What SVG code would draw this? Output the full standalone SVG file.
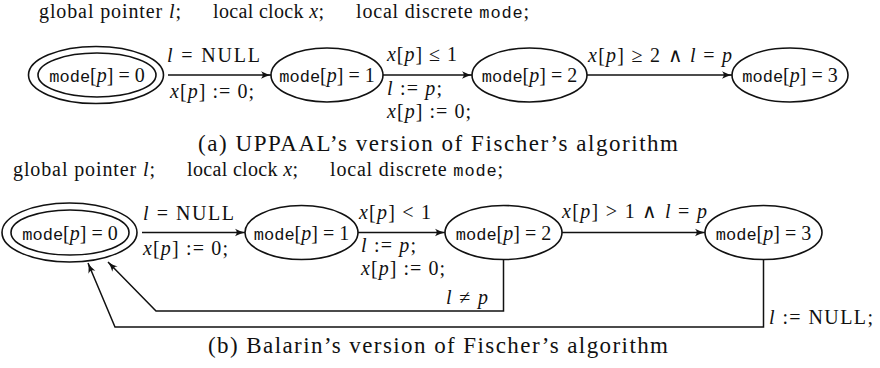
<svg xmlns="http://www.w3.org/2000/svg" width="880" height="368" viewBox="0 0 880 368">
<style>
.t{font-family:"Liberation Serif","Times New Roman",serif;font-size:20px;fill:#111}
.h{font-size:20px}
.c{font-size:23px}
.i{font-style:italic}
.m{font-family:"Liberation Mono","Courier New",monospace;font-size:17px}
.n{fill:#fff;stroke:#111;stroke-width:1.6}
.e{fill:none;stroke:#111;stroke-width:1.5}
</style>
<defs>
<marker id="ah" markerUnits="userSpaceOnUse" markerWidth="12" markerHeight="10" refX="10" refY="4" orient="auto" overflow="visible">
<path d="M0,0.3 Q5,3 10,4 Q5,5 0,7.7 Q3.5,4 0,0.3 Z" fill="#111"/>
</marker>
</defs>
<rect width="880" height="368" fill="#fff"/>

<g id="header-a" class="t h">
<text x="39" y="18" textLength="142">global pointer <tspan class="i">l</tspan>;</text>
<text x="213" y="18" textLength="111">local clock <tspan class="i">x</tspan>;</text>
<text x="356" y="18" textLength="173">local discrete <tspan class="m">mode</tspan>;</text>
</g>

<g id="connectors-a">
<path class="e" d="M168,75 H271" marker-end="url(#ah)"/>
<path class="e" d="M383,75 H472" marker-end="url(#ah)"/>
<path class="e" d="M587,75 H732" marker-end="url(#ah)"/>
</g>
<g id="edge-labels-a" class="t">
<text x="167" y="62" textLength="93"><tspan class="i">l</tspan> = NULL</text>
<text x="170" y="98" textLength="84"><tspan class="i">x</tspan>[<tspan class="i">p</tspan>] := 0;</text>
<text x="387" y="61" textLength="70"><tspan class="i">x</tspan>[<tspan class="i">p</tspan>] ≤ 1</text>
<text x="387" y="95" textLength="55"><tspan class="i">l</tspan> := <tspan class="i">p</tspan>;</text>
<text x="387" y="118" textLength="84"><tspan class="i">x</tspan>[<tspan class="i">p</tspan>] := 0;</text>
<text x="588" y="62" textLength="144"><tspan class="i">x</tspan>[<tspan class="i">p</tspan>] ≥ 2 ∧ <tspan class="i">l</tspan> = <tspan class="i">p</tspan></text>
</g>

<g id="a-node0">
<ellipse class="n" cx="96" cy="75" rx="67.5" ry="28.5"/>
<ellipse class="n" cx="97" cy="75" rx="59" ry="22"/>
<text class="t" x="97" y="82" text-anchor="middle"><tspan class="m">mode</tspan>[<tspan class="i">p</tspan>] = 0</text>
</g>
<g id="a-node1">
<ellipse class="n" cx="327" cy="75" rx="56" ry="27"/>
<text class="t" x="327" y="82" text-anchor="middle"><tspan class="m">mode</tspan>[<tspan class="i">p</tspan>] = 1</text>
</g>
<g id="a-node2">
<ellipse class="n" cx="529.5" cy="75" rx="57.5" ry="27"/>
<text class="t" x="529.5" y="82" text-anchor="middle"><tspan class="m">mode</tspan>[<tspan class="i">p</tspan>] = 2</text>
</g>
<g id="a-node3">
<ellipse class="n" cx="790" cy="75" rx="58" ry="27"/>
<text class="t" x="790" y="82" text-anchor="middle"><tspan class="m">mode</tspan>[<tspan class="i">p</tspan>] = 3</text>
</g>

<text id="caption-a" class="t c" x="198" y="151" textLength="480">(a) UPPAAL’s version of Fischer’s algorithm</text>

<g id="header-b" class="t h">
<text x="13" y="176" textLength="142">global pointer <tspan class="i">l</tspan>;</text>
<text x="187" y="176" textLength="111">local clock <tspan class="i">x</tspan>;</text>
<text x="330" y="176" textLength="173">local discrete <tspan class="m">mode</tspan>;</text>
</g>

<g id="connectors-b">
<path class="e" d="M142,232.5 H245" marker-end="url(#ah)"/>
<path class="e" d="M358,232.5 H445" marker-end="url(#ah)"/>
<path class="e" d="M562,232.5 H705" marker-end="url(#ah)"/>
<path class="e" d="M503.5,259.5 V311 H156 L108,262" marker-end="url(#ah)"/>
<path class="e" d="M763.5,259.5 V327 H115 L88,263" marker-end="url(#ah)"/>
</g>
<g id="edge-labels-b" class="t">
<text x="143" y="220" textLength="91"><tspan class="i">l</tspan> = NULL</text>
<text x="143" y="255" textLength="85"><tspan class="i">x</tspan>[<tspan class="i">p</tspan>] := 0;</text>
<text x="359" y="219" textLength="72"><tspan class="i">x</tspan>[<tspan class="i">p</tspan>] &lt; 1</text>
<text x="361" y="252" textLength="55"><tspan class="i">l</tspan> := <tspan class="i">p</tspan>;</text>
<text x="361" y="275" textLength="84"><tspan class="i">x</tspan>[<tspan class="i">p</tspan>] := 0;</text>
<text x="562" y="218" textLength="145"><tspan class="i">x</tspan>[<tspan class="i">p</tspan>] &gt; 1 ∧ <tspan class="i">l</tspan> = <tspan class="i">p</tspan></text>
<text x="446" y="304" textLength="42"><tspan class="i">l</tspan> ≠ <tspan class="i">p</tspan></text>
<text x="769" y="324" textLength="104"><tspan class="i">l</tspan> := NULL;</text>
</g>

<g id="b-node0">
<ellipse class="n" cx="69.5" cy="232.5" rx="67.5" ry="29.5"/>
<ellipse class="n" cx="70" cy="232.5" rx="59" ry="22.5"/>
<text class="t" x="70" y="239.5" text-anchor="middle"><tspan class="m">mode</tspan>[<tspan class="i">p</tspan>] = 0</text>
</g>
<g id="b-node1">
<ellipse class="n" cx="301.5" cy="232.5" rx="56.5" ry="27"/>
<text class="t" x="301.5" y="239.5" text-anchor="middle"><tspan class="m">mode</tspan>[<tspan class="i">p</tspan>] = 1</text>
</g>
<g id="b-node2">
<ellipse class="n" cx="503.5" cy="232.5" rx="58.5" ry="27"/>
<text class="t" x="503.5" y="239.5" text-anchor="middle"><tspan class="m">mode</tspan>[<tspan class="i">p</tspan>] = 2</text>
</g>
<g id="b-node3">
<ellipse class="n" cx="763.5" cy="232.5" rx="58.5" ry="27"/>
<text class="t" x="763.5" y="239.5" text-anchor="middle"><tspan class="m">mode</tspan>[<tspan class="i">p</tspan>] = 3</text>
</g>

<text id="caption-b" class="t c" x="208" y="353" textLength="460">(b) Balarin’s version of Fischer’s algorithm</text>
</svg>
